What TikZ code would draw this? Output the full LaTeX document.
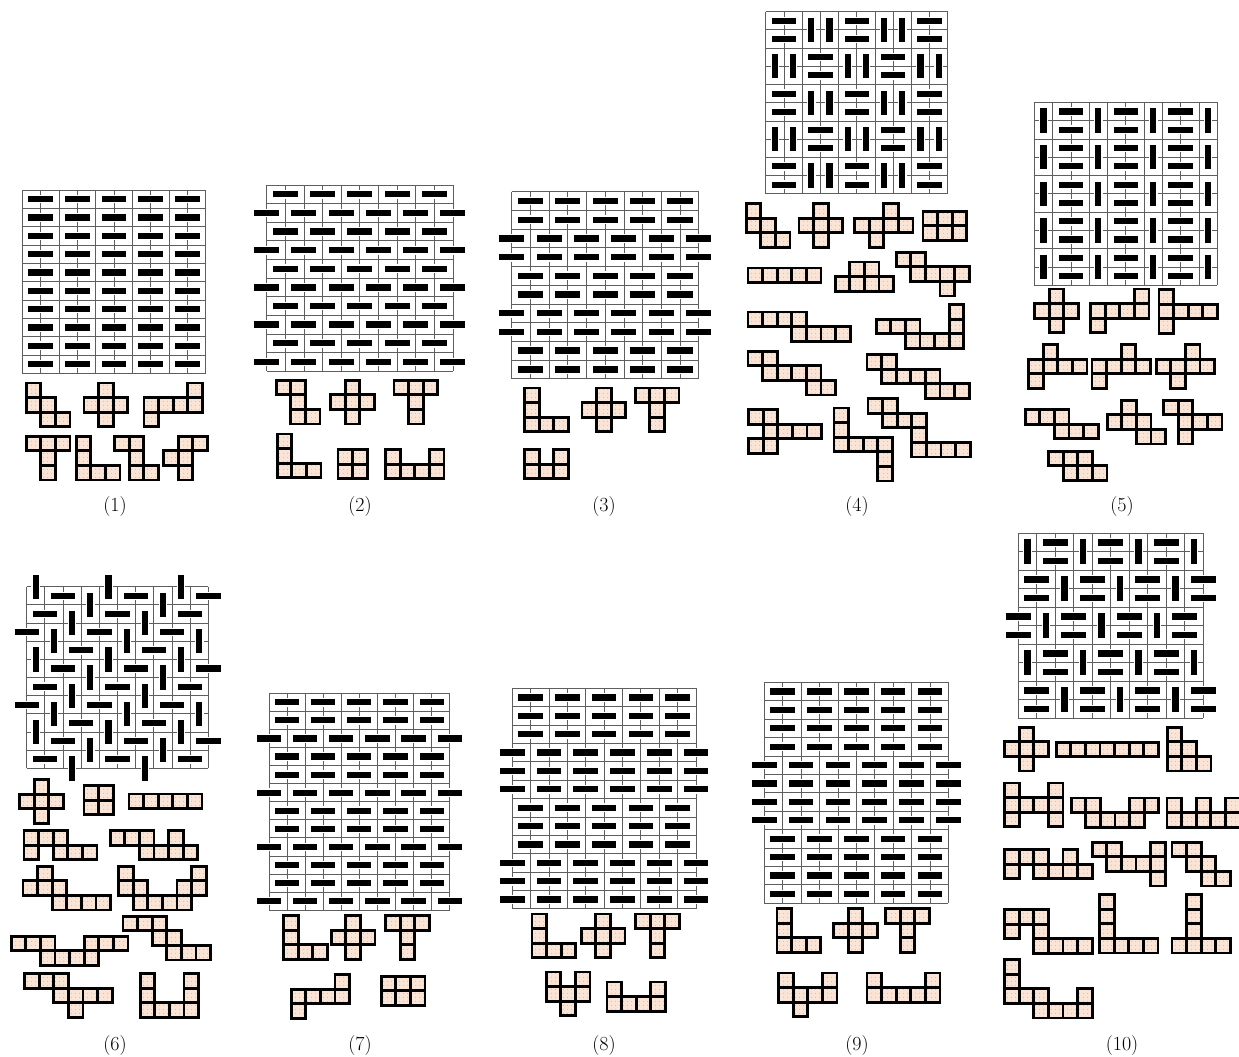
\documentclass[tikz,border=0pt]{standalone}
\usepackage{fontspec}
\usepackage{xcolor}
\usetikzlibrary{patterns.meta}
\definecolor{TilePeach}{RGB}{250,228,214}
\definecolor{TileDot}{RGB}{185,150,130}
\definecolor{GridGray}{HTML}{5E5E5E}
\tikzset{
    % thin lines of the boards
    gridline/.style={
        draw=GridGray,
        line width=0.8pt
    },
    % domino bars, with a white rim
    dominobar/.style={
        fill=black,
        preaction={draw=white, line width=2.4pt}
    },
    % one cell of a piece
    cellbox/.style={
        preaction={fill=TilePeach},
        pattern={Dots[distance=4pt, radius=0.45pt]},
        pattern color=TileDot,
        draw=black,
        line width=2.8pt
    },
    % panel numbers
    panellabel/.style={
        font=\fontsize{20}{22}\selectfont,
        inner sep=0pt
    }
}

% board: x, y, cell size, columns, rows
\newcommand{\board}[5]{%
    \def\gx{#1}\def\gy{#2}\def\cellsz{#3}%
    \foreach \i in {0,...,#4} \draw[gridline] ({#1+\i*#3},#2) -- ++(0,{#5*#3});
    \foreach \j in {0,...,#5} \draw[gridline] (#1,{#2+\j*#3}) -- ++({#4*#3},0);
}
% dominoes on the current board: column, row of the first cell
\newcommand{\hdom}[2]{\path[dominobar] ({\gx+(#1+1)*\cellsz-0.67*\cellsz},{\gy+(#2+0.5)*\cellsz-0.17*\cellsz}) rectangle ++({1.34*\cellsz},{0.34*\cellsz});}
\newcommand{\vdom}[2]{\path[dominobar] ({\gx+(#1+0.5)*\cellsz-0.17*\cellsz},{\gy+(#2+1)*\cellsz-0.67*\cellsz}) rectangle ++({0.34*\cellsz},{1.34*\cellsz});}
% straight and shifted rows
\newcommand{\nrow}[1]{\foreach \cx in {0,2,...,8} {\hdom{\cx}{#1}}}
\newcommand{\srow}[1]{\foreach \cx in {-1,1,...,9} {\hdom{\cx}{#1}}}
% pair of rows: pair index, first column of the upright dominoes
\newcommand{\pairrow}[2]{%
    \foreach \kk in {-3,0,3,6,9} {%
        \pgfmathtruncatemacro\cc{#2+\kk}%
        \ifnum\cc>-1 \ifnum\cc<10 \vdom{\cc}{2*#1}\fi\fi
        \pgfmathtruncatemacro\cc{#2+\kk+1}%
        \ifnum\cc>-2 \ifnum\cc<10 \hdom{\cc}{2*#1}\hdom{\cc}{2*#1+1}\fi\fi
    }}
% piece: x, y, list of column/row cells
\newcommand{\piece}[3]{\foreach \cx/\ry in {#3} {\path[cellbox] ({#1+1.2+\cx*14.6},{#2+1.2+\ry*14.6}) rectangle ++(14.6,14.6);}}

\begin{document}
\begin{tikzpicture}[x=1pt, y=-1pt]
    \fill[white] (0,0) rectangle (1239,1057);
    \useasboundingbox (0,0) rectangle (1239,1057);

    % (1)
    \board{22.3}{190}{18.33}{10}{10}
    \foreach \rw in {0,...,9} {\nrow{\rw}}
    \piece{25}{381.7}{0/0,0/1,1/1,1/2,2/2}
    \piece{82.7}{381.7}{1/0,0/1,1/1,2/1,1/2}
    \piece{142.7}{381.7}{3/0,0/1,1/1,2/1,3/1,0/2}
    \piece{25}{435}{0/0,1/0,2/0,1/1,1/2}
    \piece{75}{435}{0/0,0/1,0/2,1/2,2/2}
    \piece{113.3}{435}{0/0,1/0,1/1,1/2,2/2}
    \piece{162.3}{435}{1/0,2/0,0/1,1/1,1/2}
    \node[panellabel] (lab1) at (115,507) {(1)};

    % (2)
    \board{266.7}{185}{18.62}{10}{10}
    \foreach \rw in {0,2,...,8} {\nrow{\rw}}
    \foreach \rw in {1,3,...,9} {\srow{\rw}}
    \piece{275}{379}{0/0,1/0,1/1,1/2,2/2}
    \piece{329.3}{379}{1/0,0/1,1/1,2/1,1/2}
    \piece{392.7}{379}{0/0,1/0,2/0,1/1,1/2}
    \piece{276}{432.7}{0/0,0/1,0/2,1/2,2/2}
    \piece{336.7}{448.3}{0/0,1/0,0/1,1/1}
    \piece{384.3}{448.3}{0/0,3/0,0/1,1/1,2/1,3/1}
    \node[panellabel] (lab2) at (360,507) {(2)};

    % (3)
    \board{511.7}{191.7}{18.7}{10}{10}
    \foreach \rw in {0,1,4,5,8,9} {\nrow{\rw}}
    \foreach \rw in {2,3,6,7} {\srow{\rw}}
    \piece{523.3}{386.7}{0/0,0/1,0/2,1/2,2/2}
    \piece{580.7}{386.7}{1/0,0/1,1/1,2/1,1/2}
    \piece{634}{386.7}{0/0,1/0,2/0,1/1,1/2}
    \piece{523.3}{448.3}{0/0,2/0,0/1,1/1,2/1}
    \node[panellabel] (lab3) at (604,507) {(3)};

    % (4)
    \board{765.7}{11.7}{18.2}{10}{10}
    \foreach \bi in {0,...,4} \foreach \bj in {0,...,4} {%
        \pgfmathtruncatemacro\pk{mod(\bi+\bj,2)}%
        \ifnum\pk=0 \hdom{2*\bj}{2*\bi}\hdom{2*\bj}{2*\bi+1}%
        \else \vdom{2*\bj}{2*\bi}\vdom{2*\bj+1}{2*\bi}\fi}
    \piece{745}{202.3}{0/0,0/1,1/1,1/2,2/2}
    \piece{797.7}{202.3}{1/0,0/1,1/1,2/1,1/2}
    \piece{853.3}{202.3}{2/0,0/1,1/1,2/1,3/1,1/2}
    \piece{921.7}{210}{0/0,1/0,2/0,0/1,1/1,2/1}
    \piece{746.7}{266.7}{0/0,1/0,2/0,3/0,4/0}
    \piece{834}{260.7}{1/0,2/0,0/1,1/1,2/1,3/1}
    \piece{895}{251}{0/0,1/0,1/1,2/1,3/1,4/1,3/2}
    \piece{746.7}{310.7}{0/0,1/0,2/0,3/0,3/1,4/1,5/1,6/1}
    \piece{875}{303.3}{5/0,0/1,1/1,2/1,5/1,2/2,3/2,4/2,5/2}
    \piece{746.7}{350}{0/0,1/0,1/1,2/1,3/1,4/1,4/2,5/2}
    \piece{865.7}{353.3}{0/0,1/0,1/1,2/1,3/1,4/1,4/2,5/2,6/2}
    \piece{747.3}{408.3}{0/0,1/0,1/1,2/1,3/1,4/1,0/2,1/2}
    \piece{832.7}{406.7}{0/0,0/1,0/2,1/2,2/2,3/2,3/3,3/4}
    \piece{866.7}{397.3}{0/0,1/0,1/1,2/1,3/1,3/2,3/3,4/3,5/3,6/3}
    \node[panellabel] (lab4) at (857,507) {(4)};

    % (5)
    \board{1034.3}{102.3}{18.3}{10}{10}
    \foreach \pp in {0,...,4} {\pairrow{\pp}{0}}
    \piece{1033.3}{287.7}{1/0,0/1,1/1,2/1,1/2}
    \piece{1089.3}{287.7}{3/0,0/1,1/1,2/1,3/1,0/2}
    \piece{1157.7}{288.3}{0/0,0/1,1/1,2/1,3/1,0/2}
    \piece{1027.3}{343.3}{1/0,0/1,1/1,2/1,3/1,0/2}
    \piece{1090.7}{343.3}{2/0,0/1,1/1,2/1,3/1,0/2}
    \piece{1155}{343.3}{2/0,0/1,1/1,2/1,3/1,1/2}
    \piece{1024}{408.3}{0/0,1/0,2/0,2/1,3/1,4/1}
    \piece{1106}{399}{1/0,0/1,1/1,2/1,2/2,3/2}
    \piece{1162.3}{399}{0/0,1/0,1/1,2/1,3/1,1/2}
    \piece{1047.3}{450}{0/0,1/0,2/0,1/1,2/1,3/1}
    \node[panellabel] (lab5) at (1122,507) {(5)};

    % (6)
    \board{26.7}{586.7}{18.17}{10}{10}
    \foreach \rw in {-1,...,9} {%
        \pgfmathtruncatemacro\hc{mod(9-\rw,4)}%
        \pgfmathtruncatemacro\vc{mod(11-\rw,4)}%
        \ifnum\rw>-1
            \foreach \kk in {-4,0,4,8} {%
                \pgfmathtruncatemacro\cc{\hc+\kk}%
                \ifnum\cc>-2 \ifnum\cc<10 \hdom{\cc}{\rw}\fi\fi}%
        \fi
        \foreach \kk in {0,4,8} {%
            \pgfmathtruncatemacro\cc{\vc+\kk}%
            \ifnum\cc<10 \vdom{\cc}{\rw}\fi}%
    }
    \piece{18.3}{778.3}{1/0,0/1,1/1,2/1,1/2}
    \piece{82.7}{784.3}{0/0,1/0,0/1,1/1}
    \piece{127.7}{792.7}{0/0,1/0,2/0,3/0,4/0}
    \piece{22.7}{829.3}{0/0,1/0,2/0,0/1,2/1,3/1,4/1}
    \piece{109}{829.3}{0/0,1/0,2/0,4/0,2/1,3/1,4/1,5/1}
    \piece{21.7}{865}{1/0,0/1,1/1,2/1,2/2,3/2,4/2,5/2}
    \piece{117.3}{865}{0/0,5/0,0/1,1/1,4/1,5/1,1/2,2/2,3/2,4/2}
    \piece{10}{935}{0/0,1/0,2/0,5/0,6/0,7/0,2/1,3/1,4/1,5/1}
    \piece{121.7}{915}{0/0,1/0,2/0,2/1,3/1,3/2,4/2,5/2}
    \piece{23.3}{972.3}{0/0,1/0,2/0,2/1,3/1,4/1,5/1,3/2}
    \piece{139}{972.3}{0/0,0/1,0/2,1/2,2/2,3/2,3/0,3/1}
    \node[panellabel] (lab6) at (115,1045) {(6)};

    % (7)
    \board{269}{693.3}{18.07}{10}{12}
    \foreach \rw in {0,1,3,4,6,7,9,10} {\nrow{\rw}}
    \foreach \rw in {2,5,8,11} {\srow{\rw}}
    \piece{282.3}{914.3}{0/0,0/1,0/2,1/2,2/2}
    \piece{330}{914.3}{1/0,0/1,1/1,2/1,1/2}
    \piece{384.3}{914.3}{0/0,1/0,2/0,1/1,1/2}
    \piece{290}{973.3}{3/0,0/1,1/1,2/1,3/1,0/2}
    \piece{380}{975}{0/0,1/0,2/0,0/1,1/1,2/1}
    \node[panellabel] (lab7) at (360,1045) {(7)};

    % (8)
    \board{512.3}{688.3}{18.37}{10}{12}
    \foreach \rw in {0,1,2,6,7,8} {\nrow{\rw}}
    \foreach \rw in {3,4,5,9,10,11} {\srow{\rw}}
    \piece{530.7}{912.7}{0/0,0/1,0/2,1/2,2/2}
    \piece{580}{912.7}{1/0,0/1,1/1,2/1,1/2}
    \piece{634.3}{912.7}{0/0,1/0,2/0,1/1,1/2}
    \piece{545}{970.7}{0/0,2/0,0/1,1/1,2/1,1/2}
    \piece{605.7}{980.7}{0/0,3/0,0/1,1/1,2/1,3/1}
    \node[panellabel] (lab8) at (604,1045) {(8)};

    % (9)
    \board{764.3}{682.3}{18.4}{10}{12}
    \foreach \rw in {0,1,2,3,8,9,10,11} {\nrow{\rw}}
    \foreach \rw in {4,5,6,7} {\srow{\rw}}
    \piece{775.7}{907.3}{0/0,0/1,0/2,1/2,2/2}
    \piece{832.3}{907.3}{1/0,0/1,1/1,2/1,1/2}
    \piece{884.3}{907.3}{0/0,1/0,2/0,1/1,1/2}
    \piece{777.3}{971.7}{0/0,3/0,0/1,1/1,2/1,3/1,1/2}
    \piece{865.7}{971.7}{0/0,4/0,0/1,1/1,2/1,3/1,4/1}
    \node[panellabel] (lab9) at (857,1045) {(9)};

    % (10)
    \board{1018.3}{533.3}{18.5}{10}{10}
    \pairrow{0}{0}\pairrow{1}{2}\pairrow{2}{1}\pairrow{3}{0}\pairrow{4}{2}
    \piece{1003.3}{726}{1/0,0/1,1/1,2/1,1/2}
    \piece{1055}{741}{0/0,1/0,2/0,3/0,4/0,5/0,6/0}
    \piece{1166}{726}{0/0,0/1,1/1,0/2,1/2,2/2}
    \piece{1003.3}{781.7}{0/0,0/1,0/2,3/0,3/1,3/2,1/1,2/1}
    \piece{1070}{796.7}{0/0,1/0,4/0,5/0,1/1,2/1,3/1,4/1}
    \piece{1165.7}{796.7}{0/0,2/0,4/0,0/1,1/1,2/1,3/1,4/1}
    \piece{1003.3}{848.3}{0/0,1/0,2/0,4/0,0/1,2/1,3/1,4/1,5/1}
    \piece{1091}{841}{0/0,1/0,4/0,1/1,2/1,3/1,4/1,4/2}
    \piece{1170.7}{841}{0/0,1/0,1/1,2/1,2/2,3/2}
    \piece{1003.3}{908.3}{0/0,1/0,2/0,0/1,2/1,2/2,3/2,4/2,5/2}
    \piece{1098.3}{893.3}{0/0,0/1,0/2,0/3,1/3,2/3,3/3}
    \piece{1170.7}{893.3}{1/0,1/1,1/2,0/3,1/3,2/3,3/3}
    \piece{1003.3}{958.3}{0/0,0/1,0/2,1/2,2/2,5/2,2/3,3/3,4/3,5/3}
    \node[panellabel] (lab10) at (1122,1045) {(10)};
\end{tikzpicture}
\end{document}
